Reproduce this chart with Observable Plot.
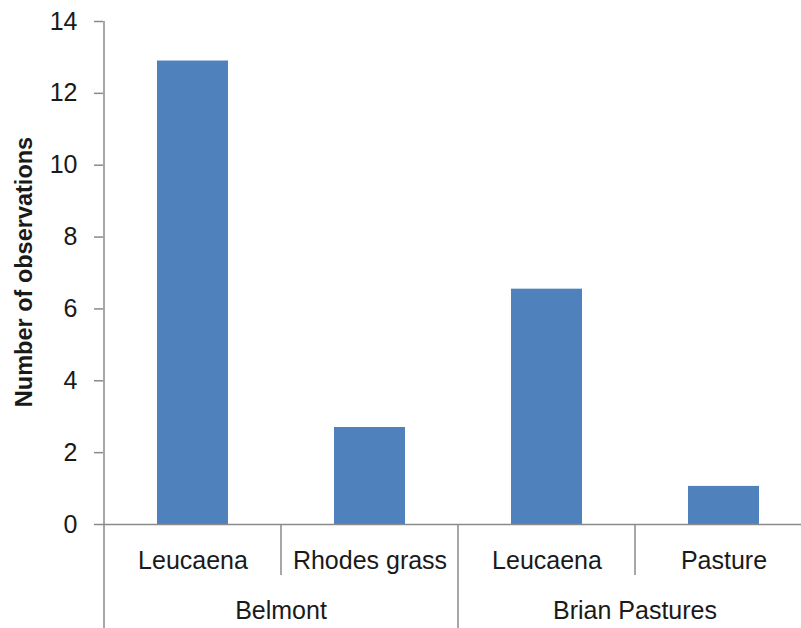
<!DOCTYPE html>
<html><head><meta charset="utf-8">
<script src="https://cdn.jsdelivr.net/npm/d3@7"></script>
<script src="https://cdn.jsdelivr.net/npm/@observablehq/plot@0.6"></script>
<style>html,body{margin:0;padding:0;background:#fff;overflow:hidden} #chart svg{display:block}</style>
</head><body><div id="chart"></div>
<script>
const sites = ["Belmont", "Belmont", "Brian Pastures", "Brian Pastures"];
const treatments = ["Leucaena", "Rhodes grass", "Leucaena", "Pasture"];
const values = [12.9, 2.7, 6.55, 1.06];
const yTicks = [0, 2, 4, 6, 8, 10, 12, 14];
const yLabel = "Number of observations";

const data = values.map((v, i) => ({key: sites[i] + "|" + treatments[i], site: sites[i], treatment: treatments[i], value: v}));
const keys = data.map(d => d.key);
const gray = "#8a8a8a";
const ink = "#1a1a1a";
const font = "'Liberation Sans', Arial, sans-serif";

const plot = Plot.plot({
  width: 801, height: 628,
  marginLeft: 103, marginRight: 0, marginTop: 21, marginBottom: 104,
  style: {fontFamily: font, fontSize: "25px", background: "#fff", overflow: "visible"},
  x: {domain: keys, range: [103, 812], paddingInner: 0.6, paddingOuter: 0.3},
  y: {domain: [0, 14]},
  marks: [
    Plot.barY(data, {x: "key", y: "value", fill: "#4F81BD"}),
    Plot.axisX({tickSize: 0, tickPadding: 27, tickFormat: k => k.split("|")[1], fontSize: 25, fill: ink, label: null}),
    Plot.axisY({ticks: yTicks, tickSize: 9, tickPadding: 17, stroke: gray, strokeWidth: 1.5, fill: ink, fontSize: 25, label: null}),
    Plot.ruleY([0], {stroke: gray, strokeWidth: 1.5})
  ]
});
document.getElementById("chart").appendChild(plot);

const svg = d3.select(plot);
const xs = plot.scale("x"), ys = plot.scale("y");
const step = xs.step, bw = xs.bandwidth;
const cellLeft = k => xs.apply(k) + bw / 2 - step / 2;
const y0 = ys.apply(0), yTop = ys.apply(14);
const H = 628;
const g = svg.append("g").attr("stroke", gray).attr("stroke-width", 1.5);
// y axis domain line, extended down through the category area
g.append("line").attr("x1", cellLeft(keys[0])).attr("x2", cellLeft(keys[0])).attr("y1", yTop).attr("y2", H);
for (let i = 1; i < keys.length; i++) {
  const x = cellLeft(keys[i]);
  const bottom = sites[i] !== sites[i - 1] ? H : y0 + 51;
  g.append("line").attr("x1", x).attr("x2", x).attr("y1", y0).attr("y2", bottom);
}
// group labels
const groups = Array.from(new Set(sites));
const tg = svg.append("g").attr("font-family", font).attr("font-size", 25).attr("fill", ink).attr("text-anchor", "middle");
groups.forEach(s => {
  const ks = keys.filter((k, i) => sites[i] === s);
  const cx = (cellLeft(ks[0]) + cellLeft(ks[ks.length - 1]) + step) / 2;
  tg.append("text").attr("x", cx).attr("y", 619).text(s);
});
// y label
svg.append("text")
  .attr("transform", "translate(24,272) rotate(-90)")
  .attr("text-anchor", "middle").attr("dy", "0.35em")
  .attr("font-family", font).attr("font-size", 23.5).attr("font-weight", "bold").attr("fill", ink)
  .text(yLabel);
</script>
</body></html>
